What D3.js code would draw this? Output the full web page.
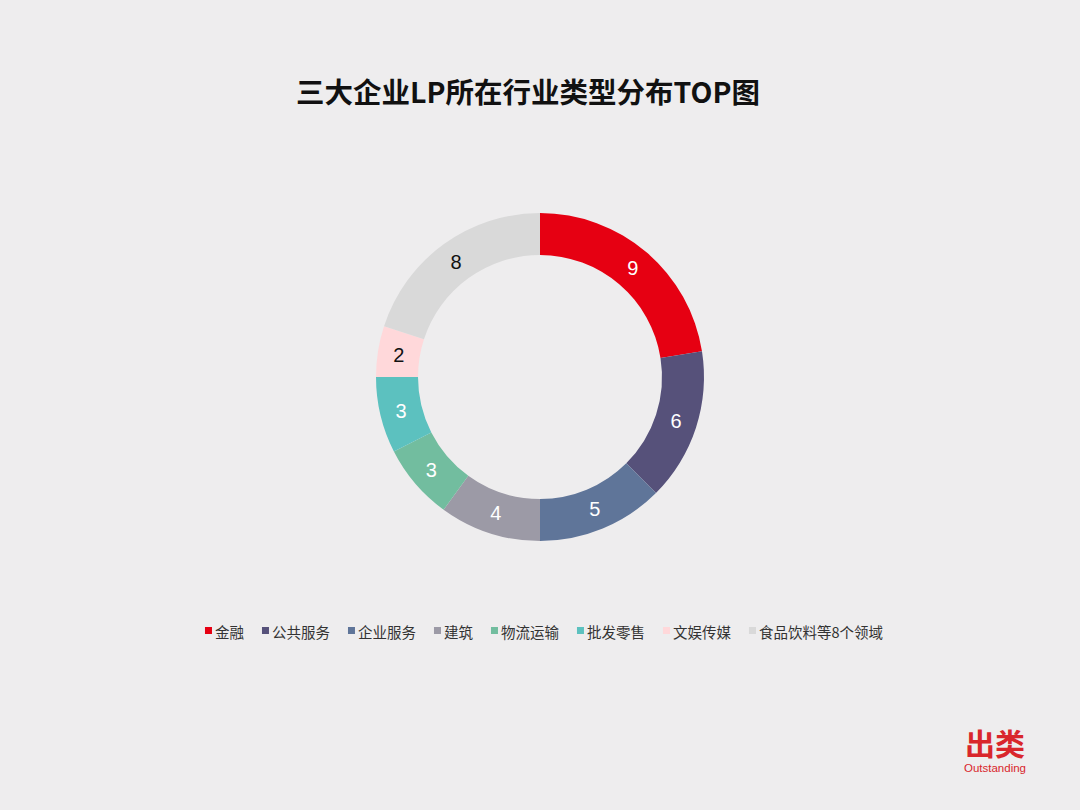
<!DOCTYPE html>
<html><head><meta charset="utf-8">
<script src="https://cdn.jsdelivr.net/npm/d3@7"></script>
<style>
html,body{margin:0;padding:0;background:#EEEDEE;}
svg{display:block;}
</style></head>
<body>
<svg id="c" width="1080" height="810"></svg>
<script>
const categories = ["金融","公共服务","企业服务","建筑","物流运输","批发零售","文娱传媒","食品饮料等8个领域"];
const values = [9,6,5,4,3,3,2,8];
const colors = ["#E60012","#56517A","#5F7599","#9C9AA6","#72BD9F","#5CC1BF","#FFD8DA","#D9D9D9"];
const labelColors = ["#FFFFFF","#FFFFFF","#FFFFFF","#FFFFFF","#FFFFFF","#FFFFFF","#111111","#111111"];
const title = "三大企业LP所在行业类型分布TOP图";

const svg = d3.select("#c");
const W = 1080, H = 810;
svg.append("rect").attr("width",W).attr("height",H).attr("fill","#EEEDEE");

const font = "'Noto Sans CJK SC','Microsoft YaHei',sans-serif";

svg.append("text").attr("x",528).attr("y",103).attr("text-anchor","middle")
  .attr("font-family",font).attr("font-weight","bold").attr("font-size",28.5)
  .attr("fill","#111").text(title);

const cx = 540, cy = 377, rOuter = 164, rInner = 122;
const data = categories.map((c,i)=>({cat:c,value:values[i],i}));
const pie = d3.pie().value(d=>d.value).sort(null);
const arc = d3.arc().innerRadius(rInner).outerRadius(rOuter);
const labelArc = d3.arc().innerRadius(143).outerRadius(143);
const g = svg.append("g").attr("transform",`translate(${cx},${cy})`);
const arcs = pie(data);
g.selectAll("path").data(arcs).join("path")
  .attr("d",arc).attr("fill",d=>colors[d.data.i]);
g.selectAll("text").data(arcs).join("text")
  .attr("transform",d=>`translate(${labelArc.centroid(d)})`)
  .attr("text-anchor","middle").attr("dy","0.36em")
  .attr("font-family","'Liberation Sans',Arial,sans-serif").attr("font-size",20)
  .attr("fill",d=>labelColors[d.data.i]).text(d=>d.data.value);

// legend
const lg = svg.append("g");
const fs = 14.5, gap = 18, mk = 7, mgap = 3;
const items = lg.selectAll("g").data(data).join("g");
items.append("rect").attr("width",mk).attr("height",mk).attr("y",-mk+1)
  .attr("fill",d=>colors[d.i]);
items.append("text").attr("x",mk+mgap).attr("y",5)
  .attr("font-family",font).attr("font-size",fs).attr("fill","#333")
  .text(d=>d.cat);
let widths = [];
items.each(function(){ const t=d3.select(this).select("text").node(); widths.push(mk+mgap+t.getComputedTextLength()); });
const total = d3.sum(widths)+gap*(widths.length-1);
let x = 544 - total/2;
items.attr("transform",(d,i)=>{ const tx=x; x+=widths[i]+gap; return `translate(${tx},633)`; });

// logo
svg.append("text").attr("x",995).attr("y",755).attr("text-anchor","middle")
  .attr("font-family",font).attr("font-weight","bold").attr("font-size",30)
  .attr("fill","#D9262C").text("出类");
svg.append("text").attr("x",995).attr("y",772).attr("text-anchor","middle")
  .attr("font-family","'Liberation Sans',Arial,sans-serif").attr("font-size",11.5)
  .attr("fill","#D9262C").text("Outstanding");
</script>
</body></html>
